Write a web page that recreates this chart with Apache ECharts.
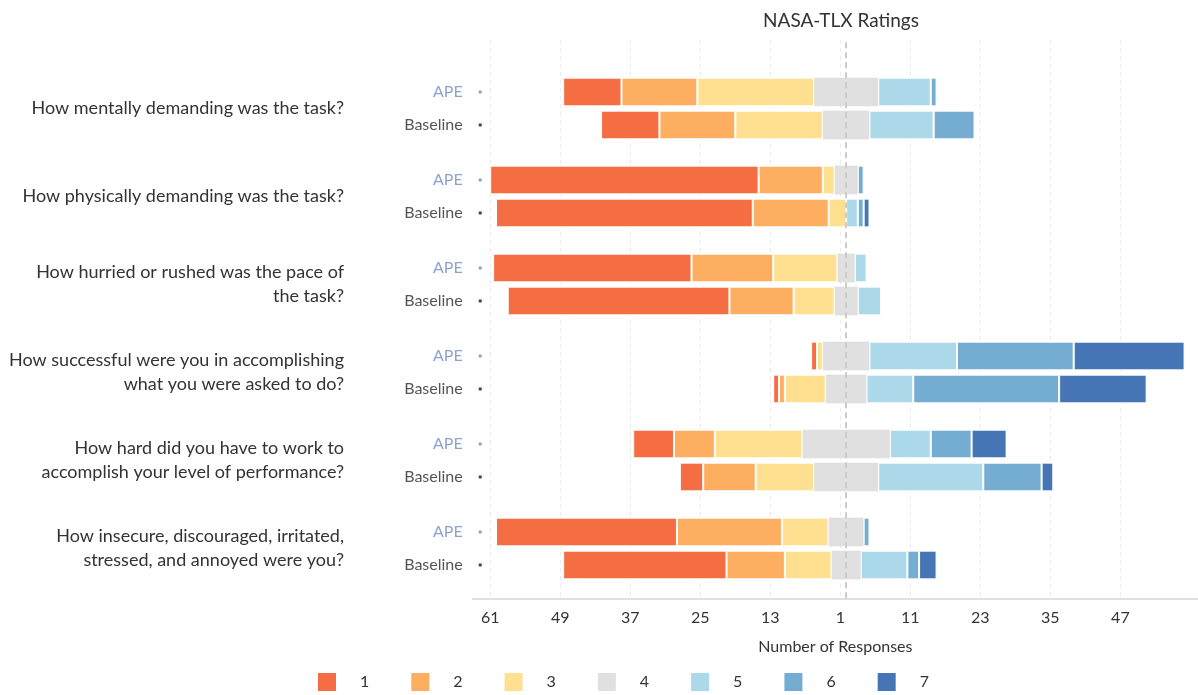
<!DOCTYPE html>
<html>
<head>
<meta charset="utf-8">
<title>NASA-TLX Ratings</title>
<script src="https://cdn.jsdelivr.net/npm/echarts@6/dist/echarts.min.js"></script>
<style>
  html, body { margin: 0; padding: 0; background: #fff; }
  #chart { width: 1198px; height: 695px; }
</style>
</head>
<body>
<div id="chart"></div>
<script>
// questions, top to bottom
const questions = [
  'How mentally demanding was the task?',
  'How physically demanding was the task?',
  'How hurried or rushed was the pace of\nthe task?',
  'How successful were you in accomplishing\nwhat you were asked to do?',
  'How hard did you have to work to\naccomplish your level of performance?',
  'How insecure, discouraged, irritated,\nstressed, and annoyed were you?'
]
const levels = ['1', '2', '3', '4', '5', '6', '7']
const tickValues = [-61, -49, -37, -25, -13, -1, 11, 23, 35, 47]

// response counts per rating level, one entry per question
const ape1 = [10, 46, 34, 1, 7, 31]
const ape2 = [13, 11, 14, 0, 7, 18]
const ape3 = [20, 2, 11, 1, 15, 8]
const ape4 = [11, 4, 3, 8, 15, 6]
const ape5 = [9, 0, 2, 15, 7, 0]
const ape6 = [1, 1, 0, 20, 7, 1]
const ape7 = [0, 0, 0, 19, 6, 0]

const base1 = [10, 44, 38, 1, 4, 28]
const base2 = [13, 13, 11, 1, 9, 10]
const base3 = [15, 3, 7, 7, 10, 8]
const base4 = [8, 0, 4, 7, 11, 5]
const base5 = [11, 2, 4, 8, 18, 8]
const base6 = [7, 1, 0, 25, 10, 2]
const base7 = [0, 1, 0, 15, 2, 3]

const colors = ['#f46d43', '#fdae61', '#fee090', '#e0e0e0', '#abd9e9', '#74add1', '#4575b4']
const font = 'Lato'

function bar(name, stack, data, color, border) {
  return {
    name: name,
    type: 'bar',
    stack: stack,
    xAxisIndex: 0,
    yAxisIndex: 0,
    barWidth: 28.7,
    barGap: '15%',
    data: data,
    itemStyle: {
      color: color,
      borderColor: '#fff',
      borderWidth: border ? 1 : 0
    },
    emphasis: { disabled: true }
  }
}

// neutral is split in two halves so it sits centred on zero
function buildSeries(stack, counts) {
  const out = []
  out.push(bar('4', stack, counts[3].map(v => v ? -v / 2 : null), colors[3], false))
  for (let i = 2; i >= 0; i--) {
    out.push(bar(levels[i], stack, counts[i].map(v => v ? -v : null), colors[i], true))
  }
  out.push(bar('4', stack, counts[3].map(v => v ? v / 2 : null), colors[3], false))
  for (let i = 4; i < 7; i++) {
    out.push(bar(levels[i], stack, counts[i].map(v => v || null), colors[i], true))
  }
  return out
}

const apeCounts = [ape1, ape2, ape3, ape4, ape5, ape6, ape7]
const baseCounts = [base1, base2, base3, base4, base5, base6, base7]

const series = buildSeries('APE', apeCounts).concat(buildSeries('Baseline', baseCounts))
series.push({
  name: 'centre',
  type: 'line',
  xAxisIndex: 1,
  yAxisIndex: 2,
  data: [],
  z: 10,
  silent: true,
  markLine: {
    symbol: 'none',
    silent: true,
    label: { show: false },
    lineStyle: { color: '#cccccc', width: 2, type: [6, 4] },
    data: [{ xAxis: 0 }]
  }
})

const chart = echarts.init(document.getElementById('chart'))
chart.setOption({
  animation: false,
  textStyle: { fontFamily: font },
  title: {
    text: 'NASA-TLX Ratings',
    left: 836,
    top: 6,
    textAlign: 'center',
    textStyle: { fontSize: 19, fontWeight: 'normal', color: '#333', fontFamily: font }
  },
  legend: {
    data: levels,
    left: 318,
    top: 673,
    padding: 0,
    icon: 'rect',
    itemWidth: 18,
    itemHeight: 18,
    itemGap: 42,
    itemStyle: { borderWidth: 0 },
    textStyle: { fontSize: 16, color: '#333', padding: [0, 0, 0, 19], fontFamily: font }
  },
  grid: [
    { left: 472.7, right: 0, top: 64.5, height: 528 },
    { left: 472.7, right: 0, top: 40, bottom: 96.7 }
  ],
  xAxis: [
    { type: 'value', gridIndex: 0, min: -64, max: 60.3, show: false },
    {
      type: 'value',
      gridIndex: 1,
      min: -64,
      max: 60.3,
      axisLine: { show: true, onZero: false, lineStyle: { color: '#e0e0e0', width: 2 } },
      axisTick: { show: false, customValues: tickValues },
      axisLabel: {
        customValues: tickValues,
        formatter: v => Math.abs(v),
        margin: 12,
        fontSize: 16,
        color: '#333',
        fontFamily: font
      },
      splitLine: { show: true, lineStyle: { color: '#ebebeb', width: 1, type: [4, 4] } },
      name: 'Number of Responses',
      nameLocation: 'middle',
      nameGap: 41,
      nameTextStyle: { fontSize: 16, color: '#333', fontFamily: font }
    }
  ],
  yAxis: [
    {
      type: 'category',
      gridIndex: 0,
      inverse: true,
      data: questions,
      axisLine: { show: false },
      axisTick: { show: false },
      axisLabel: {
        margin: 128.7,
        fontSize: 18,
        lineHeight: 24,
        color: '#333',
        align: 'right',
        fontFamily: font
      }
    },
    {
      type: 'category',
      gridIndex: 0,
      position: 'left',
      inverse: true,
      data: questions,
      axisLine: { show: false },
      axisTick: { show: false },
      axisLabel: {
        margin: -9,
        formatter: () => '{a|APE}{sp| }{da| }\n{b|Baseline}{sp| }{db| }',
        rich: {
          a: { color: '#8fa1d0', fontSize: 16, lineHeight: 33, fontFamily: font },
          b: { color: '#555', fontSize: 16, lineHeight: 33, fontFamily: font },
          sp: { width: 16, fontSize: 16 },
          da: { width: 3, height: 3, backgroundColor: '#8fa1d0', fontSize: 2 },
          db: { width: 3, height: 3, backgroundColor: '#444', fontSize: 2 }
        }
      }
    },
    { type: 'value', gridIndex: 1, min: 0, max: 1, show: false }
  ],
  series: series
})
</script>
</body>
</html>
